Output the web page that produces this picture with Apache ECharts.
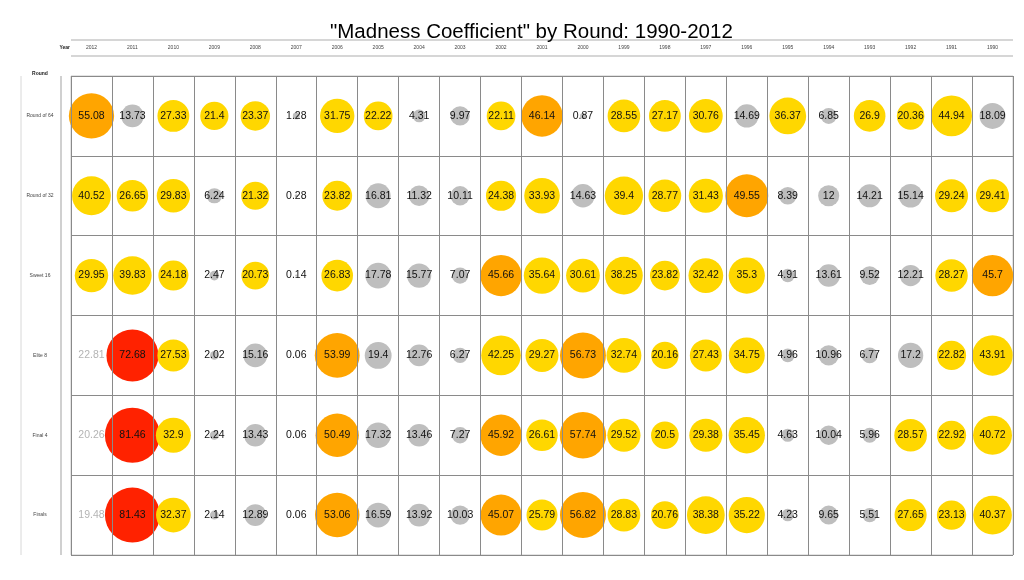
<!DOCTYPE html>
<html>
<head>
<meta charset="utf-8">
<title>Madness Coefficient</title>
<script src="https://cdn.jsdelivr.net/npm/echarts@6/dist/echarts.min.js"></script>
<style>
    html, body { margin: 0; padding: 0; background: #fff; }
    #chart { width: 1024px; height: 580px; }
</style>
</head>
<body>
<div id="chart"></div>
<script type="text/javascript">
    // years run newest to oldest, like the original
    var years = ['2012','2011','2010','2009','2008','2007','2006','2005','2004','2003','2002','2001',
                 '2000','1999','1998','1997','1996','1995','1994','1993','1992','1991','1990'];
    var rounds = ['Round of 64','Round of 32','Sweet 16','Elite 8','Final 4','Finals'];

    var round64 = [55.08,13.73,27.33,21.4,23.37,1.28,31.75,22.22,4.31,9.97,22.11,46.14,0.87,28.55,27.17,30.76,14.69,36.37,6.85,26.9,20.36,44.94,18.09];
    var round32 = [40.52,26.65,29.83,6.24,21.32,0.28,23.82,16.81,11.32,10.11,24.38,33.93,14.63,39.4,28.77,31.43,49.55,8.39,12,14.21,15.14,29.24,29.41];
    var sweet16 = [29.95,39.83,24.18,2.47,20.73,0.14,26.83,17.78,15.77,7.07,45.66,35.64,30.61,38.25,23.82,32.42,35.3,4.91,13.61,9.52,12.21,28.27,45.7];
    var elite8  = [22.81,72.68,27.53,2.02,15.16,0.06,53.99,19.4,12.76,6.27,42.25,29.27,56.73,32.74,20.16,27.43,34.75,4.96,10.96,6.77,17.2,22.82,43.91];
    var final4  = [20.26,81.46,32.9,2.24,13.43,0.06,50.49,17.32,13.46,7.27,45.92,26.61,57.74,29.52,20.5,29.38,35.45,4.63,10.04,5.96,28.57,22.92,40.72];
    var finals  = [19.48,81.43,32.37,2.14,12.89,0.06,53.06,16.59,13.92,10.03,45.07,25.79,56.82,28.83,20.76,38.38,35.22,4.23,9.65,5.51,27.65,23.13,40.37];

    // cells shown only as grey text, no bubble
    var pending = [['2012','Elite 8'],['2012','Final 4'],['2012','Finals']];

    var byRound = [round64, round32, sweet16, elite8, final4, finals];

    function bubbleColor(v) {
        if (v < 20) return '#bebebe';
        if (v < 45) return '#ffd700';
        if (v < 60) return '#ffa500';
        return '#ff2200';
    }
    function isPending(y, r) {
        for (var i = 0; i < pending.length; i++) {
            if (pending[i][0] === y && pending[i][1] === r) return true;
        }
        return false;
    }

    var cells = [];
    for (var r = 0; r < rounds.length; r++) {
        for (var c = 0; c < years.length; c++) {
            var v = byRound[r][c];
            var p = isPending(years[c], rounds[r]);
            cells.push({
                value: [years[c], rounds[r], v],
                symbolSize: p ? 0 : 6.1 * Math.sqrt(v),
                itemStyle: { color: p ? 'rgba(0,0,0,0)' : bubbleColor(v), opacity: 1 },
                label: { color: p ? '#b4b4b4' : '#111' }
            });
        }
    }

    var chart = echarts.init(document.getElementById('chart'));
    var option = {
        animation: false,
        title: {
            text: '"Madness Coefficient" by Round: 1990-2012',
            left: 325,
            top: 17,
            textStyle: { fontFamily: 'Liberation Sans', fontSize: 20.5, fontWeight: 'normal', color: '#000' }
        },
        grid: {
            left: 71, right: 11, top: 76, bottom: 25,
            show: true, borderColor: '#c8c8c8', borderWidth: 1
        },
        xAxis: {
            type: 'category',
            position: 'top',
            data: years,
            z: 5,
            axisLine: { show: false },
            axisTick: { show: false },
            axisLabel: { margin: 26, fontSize: 5, color: '#444', fontFamily: 'Liberation Sans' },
            splitLine: { show: true, lineStyle: { color: '#8a8a8a', width: 1 } }
        },
        yAxis: {
            type: 'category',
            inverse: true,
            data: rounds,
            z: 5,
            axisLine: { show: false },
            axisTick: { show: false },
            axisLabel: { margin: 31, align: 'center', fontSize: 5, color: '#444', fontFamily: 'Liberation Sans' },
            splitLine: { show: true, lineStyle: { color: '#8a8a8a', width: 1 } }
        },
        graphic: [
            { type: 'line', shape: { x1: 71, y1: 40, x2: 1013, y2: 40 }, style: { stroke: '#c8c8c8', lineWidth: 1.5 } },
            { type: 'line', shape: { x1: 71, y1: 56, x2: 1013, y2: 56 }, style: { stroke: '#c8c8c8', lineWidth: 1.5 } },
            { type: 'line', shape: { x1: 21, y1: 76, x2: 21, y2: 555 }, style: { stroke: '#d8d8d8', lineWidth: 1 } },
            { type: 'line', shape: { x1: 61, y1: 76, x2: 61, y2: 555 }, style: { stroke: '#c0c0c0', lineWidth: 1.5 } },
            { type: 'text', x: 70, y: 48, style: { text: 'Year', font: 'bold 5px Liberation Sans', fill: '#222', align: 'right', verticalAlign: 'middle' } },
            { type: 'text', x: 40, y: 74, style: { text: 'Round', font: 'bold 5px Liberation Sans', fill: '#222', align: 'center', verticalAlign: 'middle' } }
        ],
        series: [{
            type: 'scatter',
            symbol: 'circle',
            data: cells,
            label: {
                show: true,
                position: 'inside',
                fontSize: 10.5,
                fontFamily: 'Liberation Sans',
                formatter: function (p) { return String(p.value[2]); }
            }
        }]
    };
    chart.setOption(option);
</script>
</body>
</html>
